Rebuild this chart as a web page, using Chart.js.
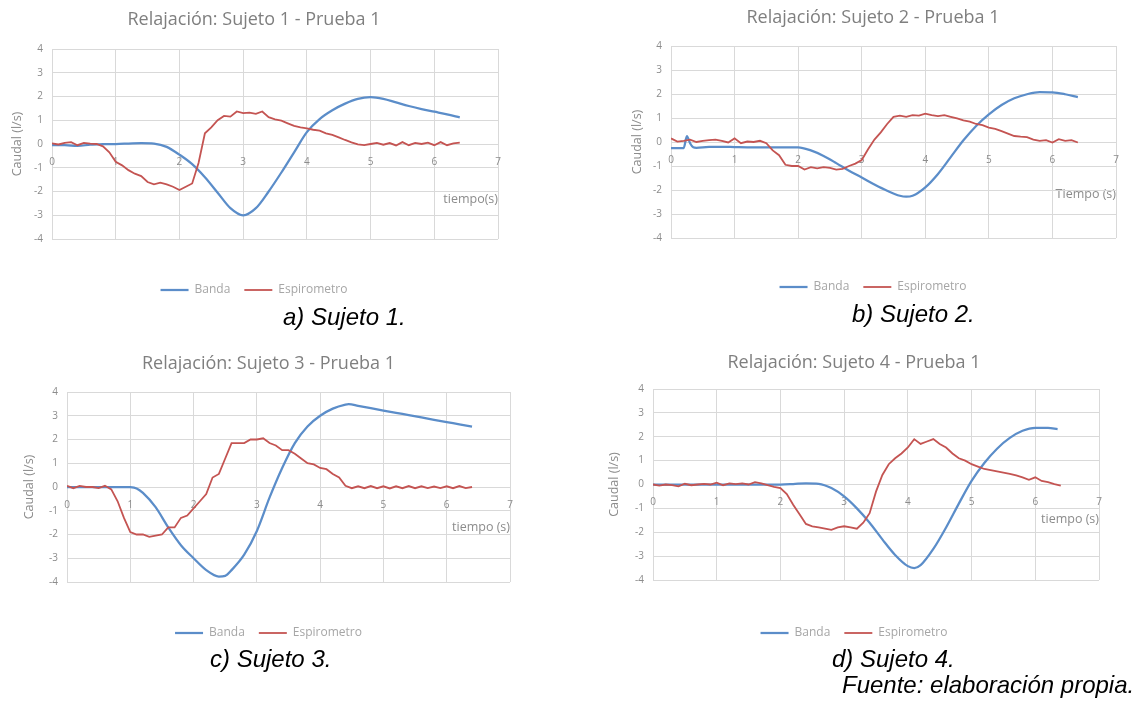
<!DOCTYPE html>
<html>
<head>
<meta charset="utf-8">
<script src="https://cdn.jsdelivr.net/npm/chart.js@4.4.1/dist/chart.umd.min.js"></script>
<style>
  body { margin: 0; background: #fff; width: 1139px; height: 711px; position: relative; overflow: hidden; }
  .box { position: absolute; }
  .cap { position: absolute; font-family: "Liberation Sans", Arial, sans-serif; font-style: italic; font-size: 24px; line-height: 1; color: #000; white-space: nowrap; z-index: 2; }
</style>
</head>
<body>
<div class="box" style="left:-10px;top:0;width:528px;height:306px"><canvas id="c1"></canvas></div>
<div class="box" style="left:610px;top:0;width:526px;height:303px"><canvas id="c2"></canvas></div>
<div class="box" style="left:7px;top:340px;width:523px;height:309px"><canvas id="c3"></canvas></div>
<div class="box" style="left:589px;top:340px;width:530px;height:309px"><canvas id="c4"></canvas></div>

<div class="cap" style="left:283px;top:305px">a) Sujeto 1.</div>
<div class="cap" style="left:852px;top:302px">b) Sujeto 2.</div>
<div class="cap" style="left:210px;top:647px">c) Sujeto 3.</div>
<div class="cap" style="left:832px;top:647px">d) Sujeto 4.</div>
<div class="cap" style="left:842px;top:673px">Fuente: elaboración propia.</div>

<script>
// tiempo (s) de las muestras del espirometro, comun a las 4 pruebas
const tEsp = [0, 0.1, 0.2, 0.3, 0.4, 0.5, 0.6, 0.7, 0.8, 0.9,
  1, 1.1, 1.2, 1.3, 1.4, 1.5, 1.6, 1.7, 1.8, 1.9,
  2, 2.1, 2.2, 2.3, 2.4, 2.5, 2.6, 2.7, 2.8, 2.9,
  3, 3.1, 3.2, 3.3, 3.4, 3.5, 3.6, 3.7, 3.8, 3.9,
  4, 4.1, 4.2, 4.3, 4.4, 4.5, 4.6, 4.7, 4.8, 4.9,
  5, 5.1, 5.2, 5.3, 5.4, 5.5, 5.6, 5.7, 5.8, 5.9,
  6, 6.1, 6.2, 6.3, 6.4];

// Sujeto 1
const tBanda1 = [0, 0.2, 0.4, 0.6, 0.8, 1, 1.2, 1.4, 1.6, 1.8, 2, 2.2, 2.4, 2.6, 2.8, 3, 3.2,
  3.4, 3.6, 3.8, 4, 4.2, 4.4, 4.6, 4.8, 5, 5.2, 5.4, 5.6, 5.8, 6, 6.2, 6.4];
const banda1 = [-0.05, -0.05, -0.08, -0.03, 0, 0, 0.02, 0.04, 0.02, -0.12, -0.45, -0.85, -1.4, -2.05, -2.7, -3.0, -2.7,
  -2.0, -1.2, -0.35, 0.5, 1.05, 1.42, 1.7, 1.9, 1.97, 1.9, 1.75, 1.6, 1.47, 1.36, 1.25, 1.12];
const esp1 = [0.03, -0.02, 0.05, 0.08, -0.05, 0.05, 0.02, 0, -0.1, -0.35,
  -0.75, -0.9, -1.1, -1.25, -1.35, -1.6, -1.7, -1.63, -1.7, -1.8,
  -1.94, -1.8, -1.66, -0.8, 0.45, 0.7, 1.0, 1.18, 1.15, 1.37,
  1.3, 1.32, 1.27, 1.37, 1.13, 1.04, 0.98, 0.87, 0.76, 0.7,
  0.66, 0.6, 0.56, 0.45, 0.38, 0.28, 0.17, 0.07, -0.02, -0.05,
  0, 0.05, -0.03, 0.04, -0.06, 0.08, -0.05, 0.05, 0, 0.06,
  -0.05, 0.08, -0.05, 0.03, 0.06];

// Sujeto 2
const tBanda2 = [0, 0.2, 0.25, 0.3, 0.35, 0.4, 0.6, 0.8, 1, 1.2, 1.4, 1.6, 1.8, 2, 2.2,
  2.4, 2.6, 2.8, 3, 3.2, 3.4, 3.6, 3.7, 3.8, 4, 4.2, 4.4, 4.6, 4.8, 5, 5.2, 5.4, 5.6, 5.8, 6, 6.2, 6.4];
const banda2 = [-0.25, -0.25, 0.25, -0.05, -0.22, -0.24, -0.2, -0.2, -0.21, -0.22, -0.22, -0.22, -0.22, -0.22, -0.35,
  -0.58, -0.88, -1.2, -1.48, -1.77, -2.03, -2.24, -2.28, -2.24, -1.89, -1.33, -0.63, 0.07, 0.67, 1.15, 1.54, 1.82, 1.99, 2.08, 2.07, 1.99, 1.87];
const esp2 = [0.15, 0.02, 0.05, 0.1, 0, 0.05, 0.08, 0.1, 0.05, -0.02,
  0.15, -0.05, 0.02, 0, 0.05, -0.05, -0.35, -0.55, -0.95, -1.0,
  -1.0, -1.15, -1.05, -1.1, -1.05, -1.08, -1.15, -1.12, -1.0, -0.9,
  -0.75, -0.3, 0.1, 0.4, 0.75, 1.05, 1.1, 1.05, 1.12, 1.1,
  1.18, 1.12, 1.08, 1.12, 1.05, 0.98, 0.9, 0.85, 0.75, 0.7,
  0.6, 0.55, 0.45, 0.35, 0.25, 0.22, 0.2, 0.1, 0.05, 0.08,
  -0.02, 0.12, 0.05, 0.08, -0.02];

// Sujeto 3
const tBanda3 = [0, 0.2, 0.4, 0.6, 0.8, 1, 1.1, 1.2, 1.4, 1.6, 1.8, 2, 2.2, 2.4, 2.5, 2.6, 2.8, 3,
  3.2, 3.4, 3.6, 3.8, 4, 4.2, 4.4, 4.45, 4.6, 4.8, 5, 5.2, 5.4, 5.6, 5.8, 6, 6.2, 6.4];
const banda3 = [0, 0, 0, 0, 0, -0.01, -0.06, -0.25, -0.85, -1.7, -2.45, -3.0, -3.5, -3.77, -3.74, -3.5, -2.85, -1.85,
  -0.45, 0.8, 1.85, 2.55, 3.0, 3.3, 3.47, 3.49, 3.42, 3.32, 3.22, 3.12, 3.03, 2.93, 2.83, 2.73, 2.64, 2.54];
const esp3 = [0.05, -0.05, 0.05, 0, 0, -0.05, 0.05, -0.1, -0.6, -1.3,
  -1.9, -2.0, -2.0, -2.1, -2.05, -2.0, -1.7, -1.7, -1.3, -1.2,
  -0.9, -0.6, -0.3, 0.4, 0.55, 1.2, 1.85, 1.85, 1.85, 2.0,
  2.0, 2.05, 1.85, 1.75, 1.55, 1.55, 1.4, 1.2, 1.0, 0.95,
  0.8, 0.75, 0.55, 0.4, 0.05, -0.05, 0.03, -0.05, 0.04, -0.05,
  0.03, -0.06, 0.03, -0.05, 0.04, -0.05, 0.03, -0.05, 0.02, -0.05,
  0.03, -0.05, 0.04, -0.05, 0];

// Sujeto 4
const tBanda4 = [0, 0.4, 0.8, 1.2, 1.6, 1.8, 2, 2.2, 2.4, 2.6, 2.8, 3, 3.2, 3.4, 3.6, 3.8, 4, 4.1,
  4.2, 4.4, 4.6, 4.8, 5, 5.2, 5.4, 5.6, 5.8, 6, 6.2, 6.35];
const banda4 = [0, 0, 0, 0, 0, 0, 0, 0.02, 0.05, 0.03, -0.15, -0.5, -1.0, -1.6, -2.3, -2.95, -3.42, -3.5,
  -3.38, -2.7, -1.8, -0.8, 0.15, 0.9, 1.5, 1.95, 2.25, 2.37, 2.37, 2.32];
const esp4 = [0, -0.05, 0, -0.03, -0.08, 0.03, -0.03, 0, 0.03, 0,
  0.08, -0.03, 0.05, 0.02, 0.05, 0, 0.1, 0.05, -0.03, -0.1,
  -0.15, -0.4, -0.85, -1.25, -1.65, -1.75, -1.8, -1.85, -1.9, -1.8,
  -1.75, -1.8, -1.85, -1.6, -1.2, -0.3, 0.4, 0.85, 1.1, 1.3,
  1.55, 1.9, 1.7, 1.8, 1.9, 1.7, 1.55, 1.3, 1.1, 1.0,
  0.85, 0.75, 0.65, 0.6, 0.55, 0.5, 0.45, 0.38, 0.3, 0.2,
  0.3, 0.15, 0.1, 0.02, -0.05];

const titulos = ['Relajación: Sujeto 1 - Prueba 1', 'Relajación: Sujeto 2 - Prueba 1',
  'Relajación: Sujeto 3 - Prueba 1', 'Relajación: Sujeto 4 - Prueba 1'];
const titulosX = ['tiempo(s)', 'Tiempo (s)', 'tiempo (s)', 'tiempo (s)'];
const tituloY = 'Caudal (l/s)';

const AZUL = '#5b8dc9';
const ROJO = '#c45452';
const GRID = '#d9d9d9';
const FONT = "'Open Sans', sans-serif";

const pts = (xs, ys) => xs.map((x, i) => ({ x: x, y: ys[i] }));

function makeChart(id, banda, esp, titulo, tituloX, lay) {
    return new Chart(document.getElementById(id), {
        type: 'line',
        data: {
            datasets: [{
                label: 'Banda',
                data: banda,
                borderColor: AZUL,
                backgroundColor: AZUL,
                borderWidth: 2.25,
                pointRadius: 0,
                cubicInterpolationMode: 'monotone',
                order: 1
            }, {
                label: 'Espirometro',
                data: esp,
                borderColor: ROJO,
                backgroundColor: ROJO,
                borderWidth: 1.8,
                pointRadius: 0,
                tension: 0,
                order: 0
            }]
        },
        options: {
            responsive: true,
            maintainAspectRatio: false,
            animation: false,
            layout: { padding: { left: 20, right: 20, top: 0, bottom: 0 } },
            plugins: {
                tooltip: { enabled: false },
                title: {
                    display: true,
                    text: titulo,
                    color: '#7f7f7f',
                    font: { family: FONT, size: 18, weight: 'normal', lineHeight: 1.1667 },
                    padding: { top: lay.tTop, bottom: lay.tBot }
                },
                legend: {
                    position: 'bottom',
                    // titulo vacio: solo deja el hueco entre el grafico y la leyenda
                    title: { display: true, text: ' ', font: { size: 10 }, padding: { top: lay.lgGap, bottom: 0 } },
                    labels: {
                        usePointStyle: true,
                        pointStyle: 'line',
                        pointStyleWidth: 28,
                        padding: 14,
                        color: '#a6a6a6',
                        font: { family: FONT, size: 12 },
                        sort: (a, b) => a.datasetIndex - b.datasetIndex
                    }
                }
            },
            scales: {
                x: {
                    type: 'linear',
                    min: 0,
                    max: 7,
                    position: { y: 0 },
                    grid: { color: GRID, drawTicks: false },
                    border: { display: false },
                    ticks: { stepSize: 1, padding: 12, color: '#8c8c8c', font: { family: FONT, size: 10 }, maxRotation: 0, autoSkip: false },
                    title: {
                        display: true,
                        text: tituloX,
                        align: 'end',
                        color: '#8c8c8c',
                        font: { family: FONT, size: 12.5 },
                        padding: { top: lay.xtPad, bottom: 0 }
                    },
                    afterFit: s => { s.paddingLeft = 0; s.paddingRight = 0; }
                },
                y: {
                    min: -4,
                    max: 4,
                    grid: { color: GRID, drawTicks: false },
                    border: { display: false },
                    ticks: { stepSize: 1, padding: 9, color: '#8c8c8c', font: { family: FONT, size: 10 } },
                    title: {
                        display: true,
                        text: tituloY,
                        color: '#8c8c8c',
                        font: { family: FONT, size: 12.5 },
                        padding: { top: lay.ytPad, bottom: 0 }
                    },
                    afterFit: s => { s.width = lay.yW; s.paddingTop = 0; s.paddingBottom = 0; }
                }
            }
        }
    });
}

makeChart('c1', pts(tBanda1, banda1), pts(tEsp, esp1), titulos[0], titulosX[0],
    { tTop: 9.5, tBot: 18.5, lgGap: 19, xtPad: 11.5, ytPad: -0.5, yW: 42 });
makeChart('c2', pts(tBanda2, banda2), pts(tEsp, esp2), titulos[1], titulosX[1],
    { tTop: 7, tBot: 18, lgGap: 17, xtPad: 8.5, ytPad: -0.5, yW: 41 });
makeChart('c3', pts(tBanda3, banda3), pts(tEsp, esp3), titulos[2], titulosX[2],
    { tTop: 13.5, tBot: 17.5, lgGap: 19, xtPad: -3.5, ytPad: -5, yW: 40 });
makeChart('c4', pts(tBanda4, banda4), pts(tEsp, esp4), titulos[3], titulosX[3],
    { tTop: 12.5, tBot: 15.5, lgGap: 21, xtPad: -8.5, ytPad: -2, yW: 44 });
</script>
</body>
</html>
